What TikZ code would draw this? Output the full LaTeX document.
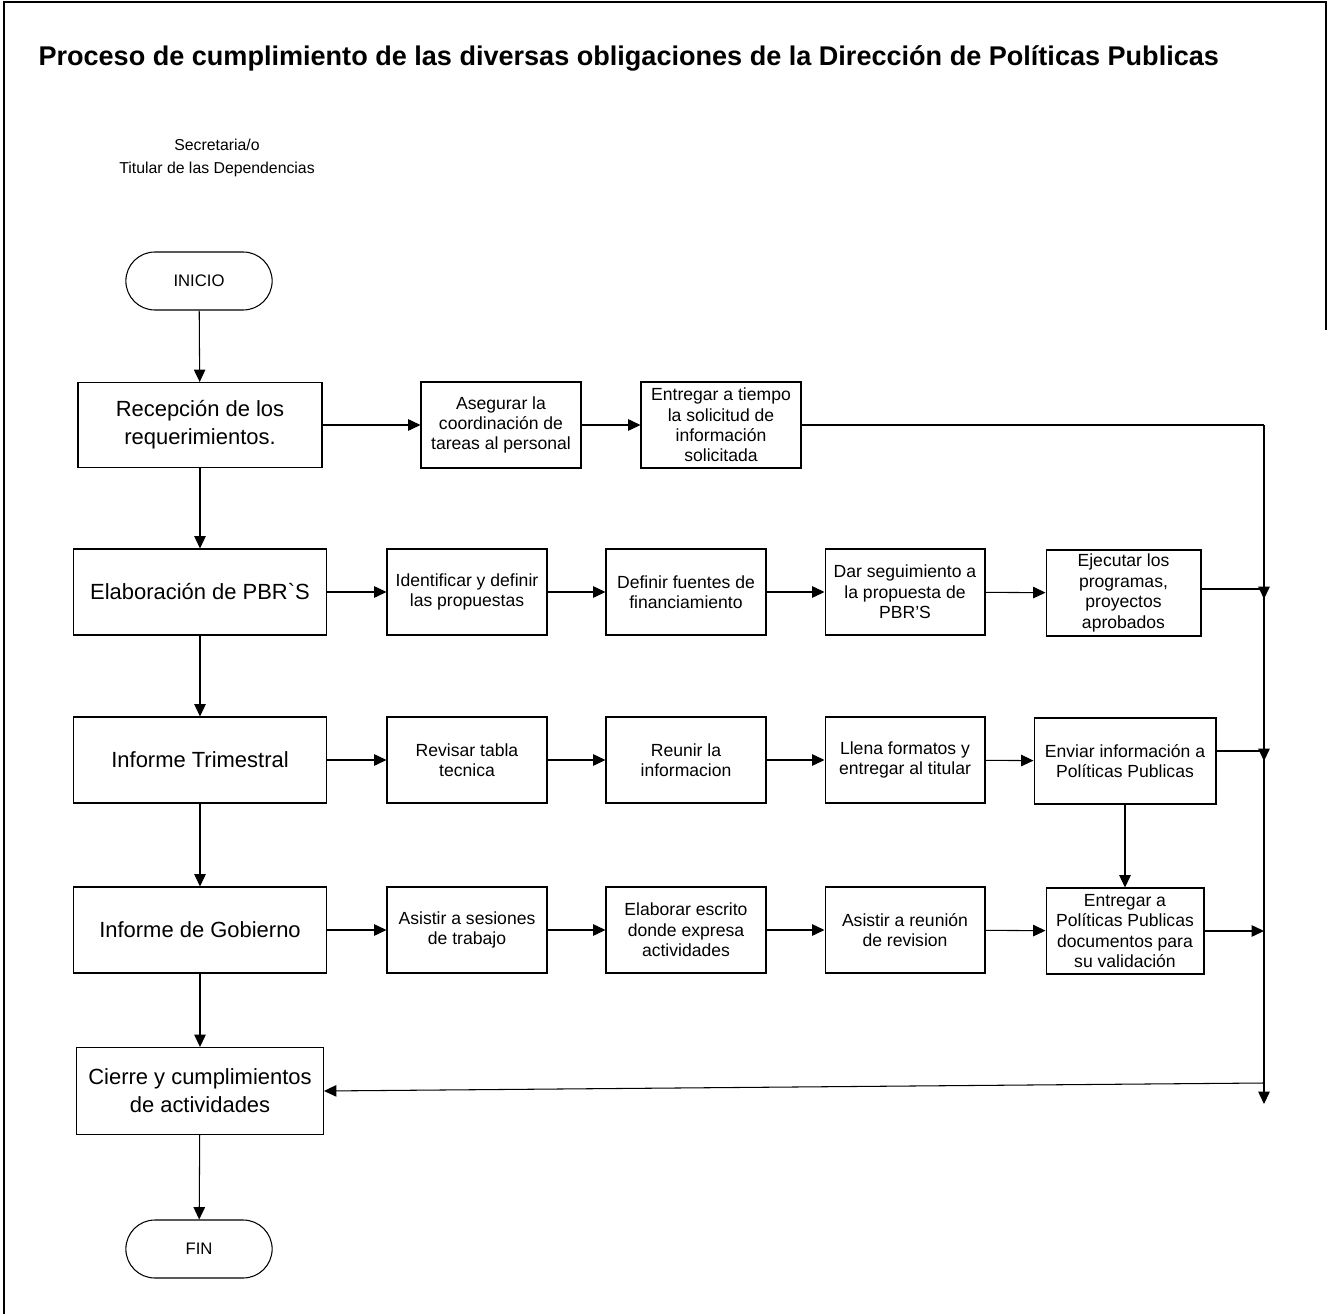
\documentclass[tikz,border=0pt]{standalone}
\usepackage{fontspec}
\setmainfont{Liberation Sans}
\usetikzlibrary{arrows.meta,shapes.misc}
\begin{document}
\begin{tikzpicture}[x=0.02cm,y=-0.02cm,
  line width=0.6pt,
  tip/.style={-{Triangle[length=7pt,width=6.5pt]}},
  mainbox/.style={draw,rectangle,minimum width=5.06cm,minimum height=1.72cm,
    align=center,font=\fontsize{12.5}{16}\selectfont,inner sep=2pt},
  subbox/.style={draw,rectangle,minimum width=3.2cm,minimum height=1.72cm,
    align=center,font=\fontsize{10}{11.6}\selectfont,inner sep=2pt},
  term/.style={draw,rounded rectangle,minimum width=3.16cm,minimum height=1.16cm,
    font=\fontsize{9.5}{11}\selectfont}]
\useasboundingbox (0,0) rectangle (1328,1314);

% page frame
\draw[line width=1.2pt] (4,1314) -- (4,2) -- (1326,2) -- (1326,330);

% heading
\node[anchor=base west,font=\bfseries\fontsize{15.4}{18}\selectfont,inner sep=0pt]
  (title) at (38,66) {Proceso de cumplimiento de las diversas obligaciones de la Dirección de Políticas Publicas};
\node[align=center,font=\fontsize{9}{13}\selectfont] (role) at (217,158)
  {Secretaria/o\\Titular de las Dependencias};

% main column
\node[term] (inicio) at (199,281) {INICIO};
\node[mainbox,minimum width=4.88cm,minimum height=1.7cm] (recep) at (200,425) {Recepción de los\\requerimientos.};
\node[mainbox] (pbr) at (200,592) {Elaboración de PBR\textasciigrave S};
\node[mainbox] (trim) at (200,760) {Informe Trimestral};
\node[mainbox] (gob) at (200,930) {Informe de Gobierno};
\node[mainbox,minimum width=4.94cm,minimum height=1.74cm] (cierre) at (200,1091) {Cierre y cumplimientos\\de actividades};
\node[term] (fin) at (199,1249) {FIN};

% row 1
\node[subbox] (aseg) at (501,425) {Asegurar la\\coordinación de\\tareas al personal};
\node[subbox] (entt) at (721,425) {Entregar a tiempo\\la solicitud de\\información\\solicitada};

% row 2
\node[subbox] (ident) at (467,592) {Identificar y definir\\las propuestas};
\node[subbox] (fuent) at (686,592) {Definir fuentes de\\financiamiento};
\node[subbox] (segu) at (905,592) {Dar seguimiento a\\la propuesta de\\PBR’S};
\node[subbox,minimum width=3.1cm] (ejec) at (1123.5,593) {Ejecutar los\\programas,\\proyectos\\aprobados};

% row 3
\node[subbox] (revis) at (467,760) {Revisar tabla\\tecnica};
\node[subbox] (reun) at (686,760) {Reunir la\\informacion};
\node[subbox] (llena) at (905,760) {Llena formatos y\\entregar al titular};
\node[subbox,minimum width=3.64cm] (envi) at (1125,761) {Enviar información a\\Políticas Publicas};

% row 4
\node[subbox] (sesi) at (467,930) {Asistir a sesiones\\de trabajo};
\node[subbox] (escr) at (686,930) {Elaborar escrito\\donde expresa\\actividades};
\node[subbox] (reuni) at (905,930) {Asistir a reunión\\de revision};
\node[subbox,minimum width=3.16cm] (entp) at (1125,931) {Entregar a\\Políticas Publicas\\documentos para\\su validación};

% collecting rail on the right
\coordinate (rtop) at (1264,425);
\coordinate (rej) at (1264,589);
\coordinate (ren) at (1264,751);
\coordinate (rgo) at (1264,931);
\coordinate (rci) at (1264,1083);
\coordinate (rend) at (1264,1104);

% main column flow
\draw[tip] (inicio) -- (recep);
\draw[tip] (recep) -- (pbr);
\draw[tip] (pbr) -- (trim);
\draw[tip] (trim) -- (gob);
\draw[tip] (gob) -- (cierre);
\draw[tip] (cierre) -- (fin);

% row flows
\draw[tip] (recep) -- (aseg);
\draw[tip] (aseg) -- (entt);
\draw[tip] (pbr) -- (ident);
\draw[tip] (ident) -- (fuent);
\draw[tip] (fuent) -- (segu);
\draw[tip] (segu) -- (ejec);
\draw[tip] (trim) -- (revis);
\draw[tip] (revis) -- (reun);
\draw[tip] (reun) -- (llena);
\draw[tip] (llena) -- (envi);
\draw[tip] (gob) -- (sesi);
\draw[tip] (sesi) -- (escr);
\draw[tip] (escr) -- (reuni);
\draw[tip] (reuni) -- (entp);
\draw[tip] (envi) -- (entp);

% into the rail
\draw (entt.east) -- (rtop);
\draw[tip] (rtop) -- (rend);
\draw (ejec.east |- rej) -- (rej);
\draw[tip] (rej) -- ++(0,10);
\draw (envi.east |- ren) -- (ren);
\draw[tip] (ren) -- ++(0,10);
\draw[tip] (entp.east) -- (rgo);
\draw[tip] (rci) -- (cierre.east);
\end{tikzpicture}
\end{document}
